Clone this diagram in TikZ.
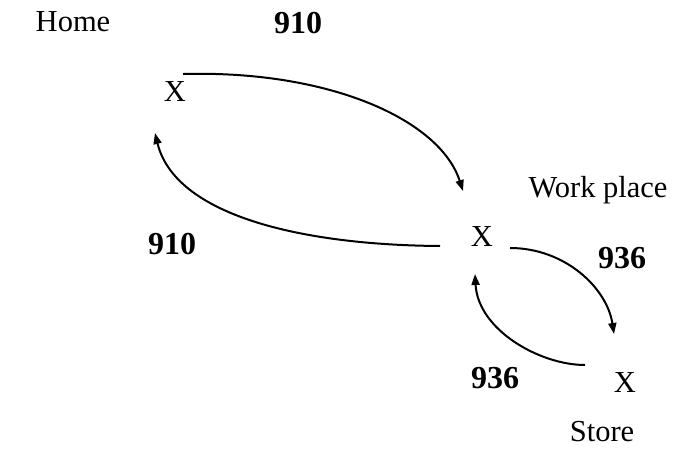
\documentclass[tikz,border=0pt]{standalone}
\usepackage{fontspec}
\setmainfont{Liberation Serif}
\usetikzlibrary{arrows.meta}
\begin{document}
\begin{tikzpicture}[x=1pt,y=-1pt,
  lbl/.style={inner sep=0pt,font=\fontsize{30.5}{36}\selectfont},
  num/.style={inner sep=0pt,font=\fontsize{32}{38}\selectfont\bfseries},
  arc/.style={line width=2pt,-{Triangle[length=11pt,width=8pt]}}]
\useasboundingbox (0,0) rectangle (680,455);
% nodes
\node[lbl] (homelbl) at (73,22) {Home};
\node[lbl] (home) at (175,92) {X};
\node[lbl] (worklbl) at (598,190) {Work place};
\node[lbl] (work) at (482,237) {X};
\node[lbl] (store) at (625,383) {X};
\node[lbl] (storelbl) at (602,432) {Store};
% labels
\node[num] (n1) at (298,23) {910};
\node[num] (n2) at (172,244) {910};
\node[num] (n3) at (622,258) {936};
\node[num] (n4) at (495,378) {936};
% connector end points
\coordinate (a1) at (183,74);
\coordinate (a2) at (463,191);
\coordinate (b1) at (440,246);
\coordinate (b2) at (155,133);
\coordinate (c1) at (510,248);
\coordinate (c2) at (614,334);
\coordinate (d1) at (585,365);
\coordinate (d2) at (475,274);
% connectors
\draw[arc] (a1) .. controls (330,70) and (440,120) .. (a2);
\draw[arc] (b1) .. controls (300,245) and (175,215) .. (b2);
\draw[arc] (c1) .. controls (565,248) and (607,288) .. (c2);
\draw[arc] (d1) .. controls (540,365) and (478,330) .. (d2);
\end{tikzpicture}
\end{document}
